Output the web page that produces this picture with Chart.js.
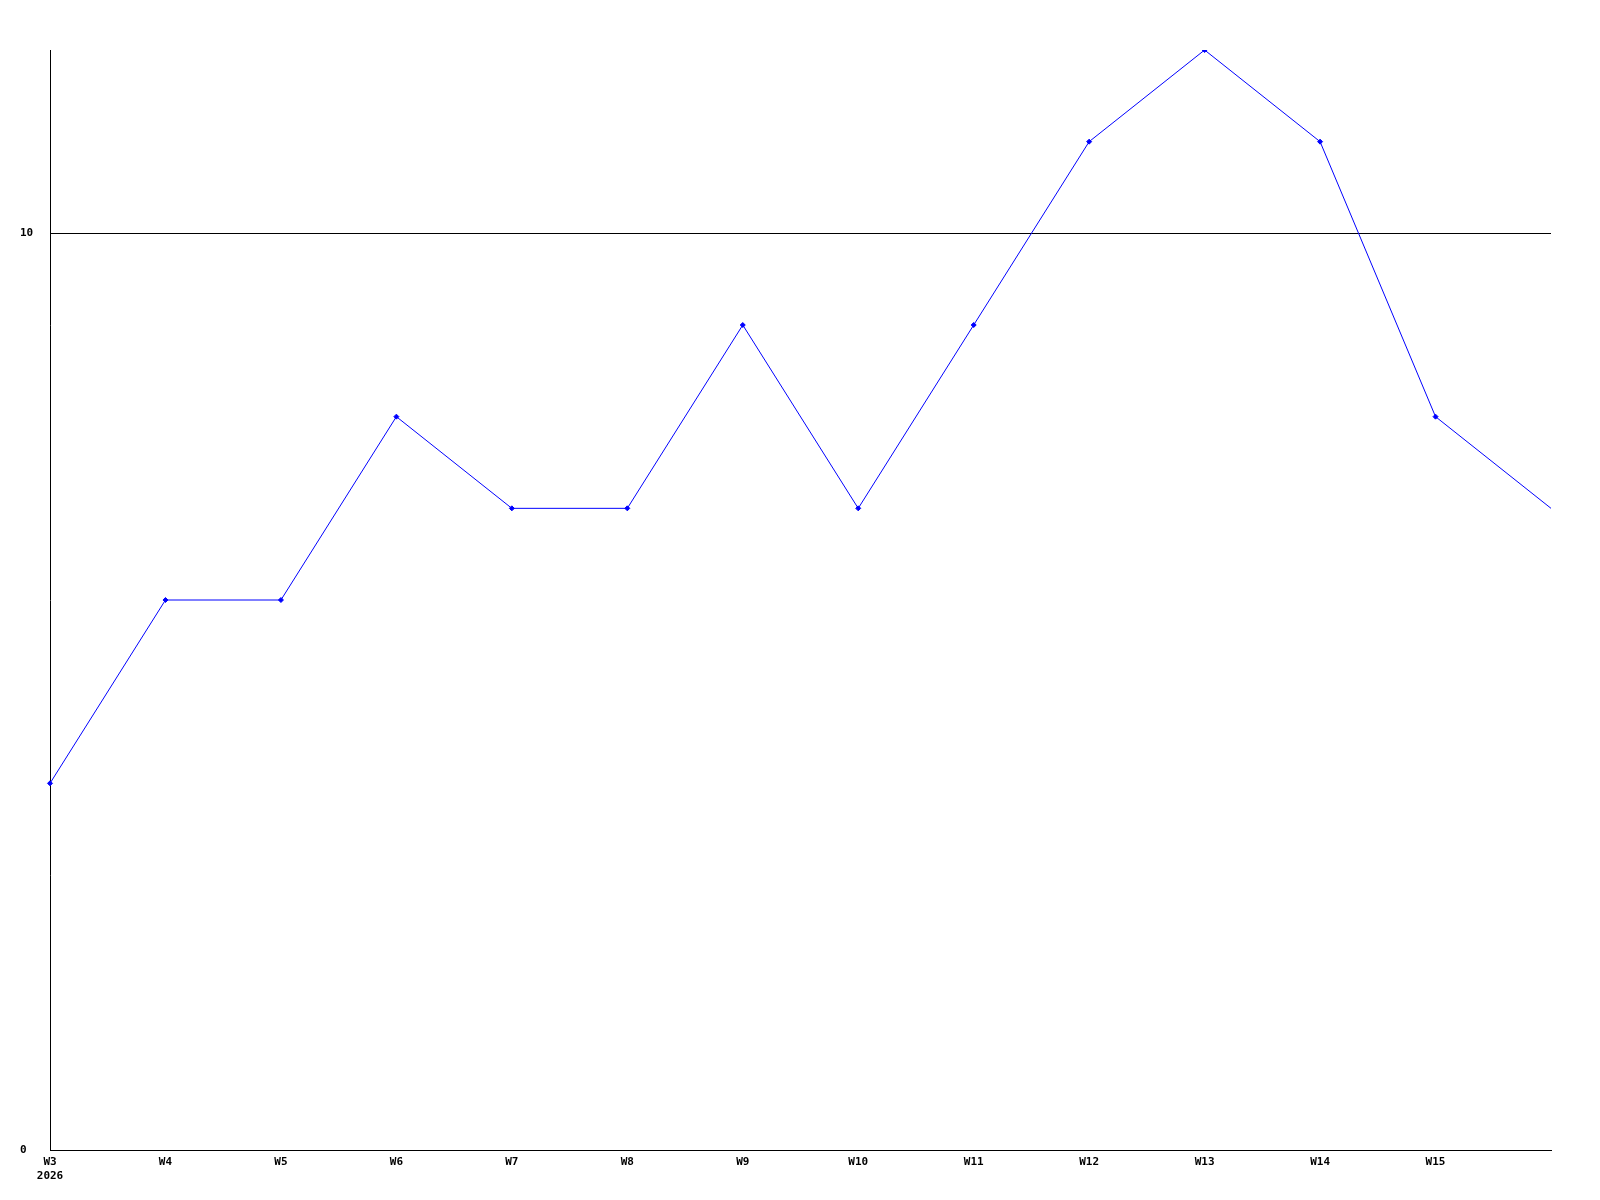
<!DOCTYPE html>
<html>
<head>
<meta charset="utf-8">
<script src="https://cdn.jsdelivr.net/npm/chart.js@4"></script>
<style>
  html, body { margin: 0; padding: 0; background: #fff; }
  #wrap { width: 1600px; height: 1200px; }
</style>
</head>
<body>
<div id="wrap"><canvas id="chart"></canvas></div>
<script>
const weeks = ["W3", "W4", "W5", "W6", "W7", "W8", "W9", "W10", "W11", "W12", "W13", "W14", "W15", "W16"];
const values = [4, 6, 6, 8, 7, 7, 9, 7, 9, 11, 12, 11, 8, 7];
const yearLabel = "2026";
const yTicks = [0, 10];
const yMax = 12;

const font = { family: "'DejaVu Sans Mono', monospace", size: 11, weight: "bold" };

new Chart(document.getElementById("chart"), {
  type: "line",
  data: {
    labels: weeks,
    datasets: [{
      data: values,
      borderColor: "#0000ff",
      backgroundColor: "#0000ff",
      borderWidth: 1,
      tension: 0,
      pointStyle: "rectRot",
      // pas de marqueur sur le dernier point
      pointRadius: (ctx) => (ctx.dataIndex === values.length - 1 ? 0 : 2.5),
      pointBorderWidth: 1,
      pointBorderColor: "#0000ff",
    }],
  },
  options: {
    responsive: true,
    maintainAspectRatio: false,
    animation: false,
    layout: { padding: { top: 50, right: 49, left: 20, bottom: 0 } },
    plugins: { legend: { display: false }, tooltip: { enabled: false } },
    scales: {
      x: {
        offset: false,
        grid: { display: false, drawTicks: false },
        border: { display: true, color: "#000", width: 1 },
        afterFit: (axis) => { axis.height = 50; },
        ticks: {
          color: "#000",
          font: font,
          padding: 6,
          maxRotation: 0,
          autoSkip: false,
          callback: function (value, index) {
            if (index === weeks.length - 1) return "";
            if (index === 0) return [weeks[index], yearLabel];
            return weeks[index];
          },
        },
      },
      y: {
        min: 0,
        max: yMax,
        afterBuildTicks: (axis) => { axis.ticks = yTicks.map((v) => ({ value: v })); },
        afterFit: (axis) => { axis.width = 30; },
        grid: { color: "#000", lineWidth: 1, drawTicks: false },
        border: { display: true, color: "#000", width: 1 },
        ticks: {
          color: "#000",
          font: font,
          crossAlign: "far",
          padding: 17,
        },
      },
    },
  },
});
</script>
</body>
</html>
